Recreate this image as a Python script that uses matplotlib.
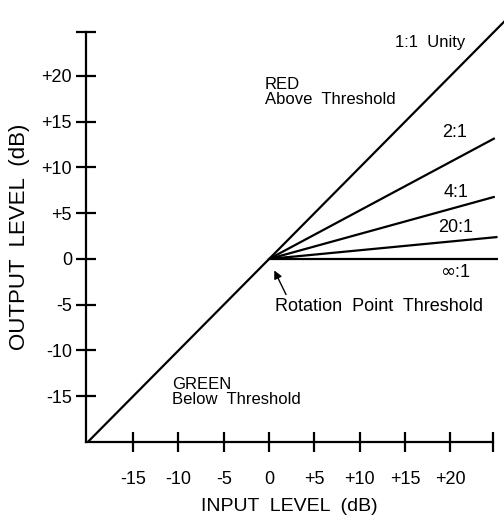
import numpy as np
import matplotlib
matplotlib.use("Agg")
import matplotlib.pyplot as plt

plt.rcParams['font.family'] = ['Liberation Sans', 'DejaVu Sans']

# ==== DATI ====
tick_vals = [-15, -10, -5, 0, 5, 10, 15, 20]
x_tick_labels = ["-15", "-10", "-5", "0", "+5", "+10", "+15", "+20"]
y_tick_labels = ["-15", "-10", "-5", "0", "+5", "+10", "+15", "+20"]

x_lim = (-20.2, 24.7)
y_lim = (-20.0, 24.8)

# linea 1:1 (dall'angolo fino oltre il bordo)
unity_x = [-20.0, 26.0]
unity_y = [-20.0, 26.0]

# linee di compressione: (etichetta, x finale, y finale)
ratio_names = ["2:1", "4:1", "20:1", r"$\infty$:1"]
ratio_end_x = [24.9, 24.9, 25.2, 25.2]
ratio_end_y = [13.2, 6.8, 2.4, 0.0]
ratio_label_x = [19.1, 19.2, 18.7, 18.9]
ratio_label_y = [13.8, 7.3, 3.4, -1.5]

fig = plt.figure(figsize=(5.04, 5.23), dpi=100)
ax = fig.add_axes([86 / 504, 1 - 442 / 523, (493 - 86) / 504, (442 - 32) / 523])

lw = 1.6
ax.plot(unity_x, unity_y, color="black", lw=lw, clip_on=False, solid_capstyle="butt")
for ex, ey in zip(ratio_end_x, ratio_end_y):
    ax.plot([0, ex], [0, ey], color="black", lw=lw, clip_on=False, solid_capstyle="butt")

# cuneo scuro al punto di rotazione
ax.fill([-0.3, 2.5, 2.5], [0.0, 0.35, -0.1], color="black", lw=0)

ax.set_xlim(*x_lim)
ax.set_ylim(*y_lim)

for s in ["top", "right"]:
    ax.spines[s].set_visible(False)
for s in ["left", "bottom"]:
    ax.spines[s].set_linewidth(lw)

ax.set_xticks(tick_vals + [x_lim[1]])
ax.set_xticklabels(x_tick_labels + [""])
ax.set_yticks(tick_vals + [y_lim[1]])
ax.set_yticklabels(y_tick_labels + [""])
ax.tick_params(axis="x", direction="inout", length=14, width=lw, pad=14, labelsize=13)
ax.tick_params(axis="y", direction="inout", length=14, width=lw, pad=3, labelsize=13)

ax.set_xlabel("INPUT  LEVEL  (dB)", fontsize=14, labelpad=7)
ax.set_ylabel("OUTPUT  LEVEL  (dB)", fontsize=16, labelpad=8)

ax.text(13.9, 23.7, "1:1  Unity", fontsize=12, ha="left", va="center")
for name, lx, ly in zip(ratio_names, ratio_label_x, ratio_label_y):
    ax.text(lx, ly, name, fontsize=13, ha="left", va="center")

ax.text(-0.44, 19.9, "RED\nAbove  Threshold", fontsize=12, ha="left", va="top", linespacing=1.0)
ax.text(-10.7, -12.9, "GREEN\nBelow  Threshold", fontsize=12, ha="left", va="top", linespacing=1.0)
ax.text(0.66, -4.3, "Rotation  Point  Threshold", fontsize=13, ha="left", va="top")
ax.annotate("", xy=(0.44, -0.98), xytext=(2.0, -4.16),
            arrowprops=dict(arrowstyle="-|>", color="black", lw=1.0, mutation_scale=12))

fig.savefig("out.png", dpi=100)
